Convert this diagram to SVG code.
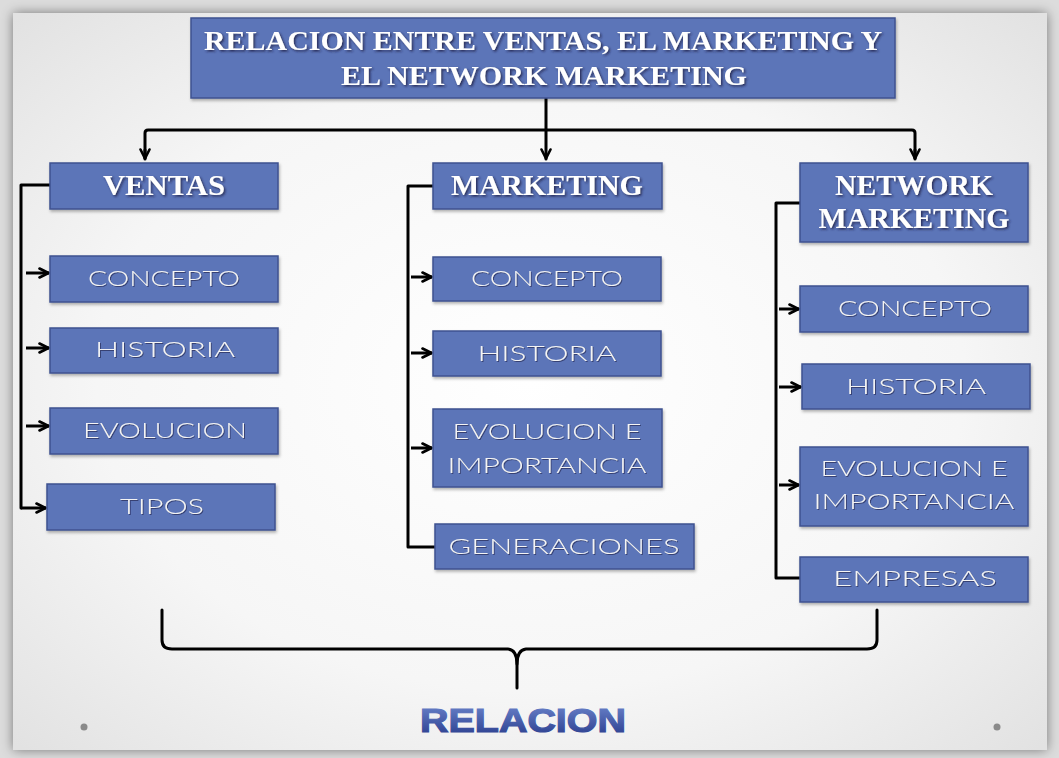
<svg xmlns="http://www.w3.org/2000/svg" width="1059" height="758" viewBox="0 0 1059 758">
<defs>
  <radialGradient id="slideBg" cx="0.5" cy="0.5" r="0.7">
    <stop offset="0" stop-color="#ffffff"/>
    <stop offset="0.6" stop-color="#f6f6f6"/>
    <stop offset="1" stop-color="#e2e2e2"/>
  </radialGradient>
  <linearGradient id="relGrad" x1="0" y1="0" x2="0" y2="1">
    <stop offset="0" stop-color="#6f88cf"/>
    <stop offset="1" stop-color="#26398a"/>
  </linearGradient>
  <filter id="slideShadow" x="-5%" y="-5%" width="110%" height="110%">
    <feDropShadow dx="0" dy="0" stdDeviation="6" flood-color="#000" flood-opacity="0.45"/>
  </filter>
  <filter id="boxShadow" x="-10%" y="-20%" width="120%" height="150%">
    <feDropShadow dx="1" dy="2" stdDeviation="1.5" flood-color="#000" flood-opacity="0.3"/>
  </filter>
  <filter id="txtShadow" x="-10%" y="-30%" width="120%" height="160%">
    <feDropShadow dx="1.5" dy="1.5" stdDeviation="0.8" flood-color="#1a2244" flood-opacity="0.85"/>
  </filter>
  <filter id="txtShadow2" x="-10%" y="-30%" width="120%" height="160%">
    <feDropShadow dx="1" dy="1" stdDeviation="0.6" flood-color="#1a2244" flood-opacity="0.6"/>
  </filter>
  <marker id="arr" viewBox="0 0 12 12" refX="11" refY="6" markerWidth="12" markerHeight="12" markerUnits="userSpaceOnUse" orient="auto">
    <path d="M1.5,1.5 L10.5,6 L1.5,10.5" fill="none" stroke="#000" stroke-width="2.6" stroke-linecap="round" stroke-linejoin="round"/>
  </marker>
  <style>
    .box { fill: #5b74b8; stroke: #3f5290; stroke-width: 1.5; filter: url(#boxShadow); }
    .head { font-family: "Liberation Serif", serif; font-weight: bold; fill: #ffffff; filter: url(#txtShadow); text-anchor: middle; }
    .sub { font-family: "Lato", "DejaVu Sans", sans-serif; font-weight: 300; font-size: 21px; fill: #f4f4f4; filter: url(#txtShadow2); text-anchor: middle; }
    .conn { fill: none; stroke: #000; stroke-width: 3; stroke-linejoin: round; stroke-linecap: round; }
    .arrow { fill: none; stroke: #000; stroke-width: 3; marker-end: url(#arr); }
  </style>
</defs>

<rect x="0" y="0" width="1059" height="758" fill="#dcdcdc"/>
<rect x="13" y="13" width="1034" height="737" fill="url(#slideBg)" filter="url(#slideShadow)"/>
<circle cx="84" cy="727" r="3.5" fill="#8a8a8a"/>
<circle cx="997" cy="727" r="3.5" fill="#8a8a8a"/>

<g id="connectors">
  <path class="conn" d="M546,98 L546,159" marker-end="url(#arr)"/>
  <path class="conn" d="M145,158 L145,133 Q145,130 148,130 L912,130 Q915,130 915,133 L915,158" />
  <path class="conn" d="M145,150 L145,159" marker-end="url(#arr)"/>
  <path class="conn" d="M915,150 L915,159" marker-end="url(#arr)"/>

  <path class="conn" d="M50,185 L21,185 L21,508"/>
  <line class="arrow" x1="26" y1="273" x2="49" y2="273"/>
  <line class="arrow" x1="26" y1="348" x2="49" y2="348"/>
  <line class="arrow" x1="26" y1="426" x2="49" y2="426"/>
  <line class="arrow" x1="21" y1="508" x2="46" y2="508"/>

  <path class="conn" d="M433,186 L408,186 L408,547 L435,547"/>
  <line class="arrow" x1="411" y1="277" x2="432" y2="277"/>
  <line class="arrow" x1="411" y1="353" x2="432" y2="353"/>
  <line class="arrow" x1="411" y1="448" x2="432" y2="448"/>

  <path class="conn" d="M800,203 L776,203 L776,578 L800,578"/>
  <line class="arrow" x1="779" y1="309" x2="799" y2="309"/>
  <line class="arrow" x1="779" y1="387" x2="801" y2="387"/>
  <line class="arrow" x1="779" y1="485" x2="799" y2="485"/>

  <path class="conn" d="M162,610 L162,640 Q162,649 172,649 L508,649 Q517,650 517,664 L517,688"/>
  <path class="conn" d="M877,610 L877,640 Q877,649 867,649 L526,649 Q517,650 517,664"/>
</g>

<g id="title">
  <rect class="box" x="191" y="18" width="704" height="80"/>
  <text class="head" x="543" y="50" font-size="28" textLength="678" lengthAdjust="spacingAndGlyphs">RELACION ENTRE VENTAS, EL MARKETING Y</text>
  <text class="head" x="544" y="85" font-size="28" textLength="406" lengthAdjust="spacingAndGlyphs">EL NETWORK MARKETING</text>
</g>

<g id="ventas">
  <rect class="box" x="50" y="163" width="228" height="46"/>
  <text class="head" x="164" y="195" font-size="29" textLength="122" lengthAdjust="spacingAndGlyphs">VENTAS</text>
</g>
<g id="ventas-concepto">
  <rect class="box" x="50" y="256" width="228" height="46"/>
  <text class="sub" x="164" y="286" textLength="152" lengthAdjust="spacingAndGlyphs">CONCEPTO</text>
</g>
<g id="ventas-historia">
  <rect class="box" x="50" y="328" width="228" height="45"/>
  <text class="sub" x="165" y="357" textLength="140" lengthAdjust="spacingAndGlyphs">HISTORIA</text>
</g>
<g id="ventas-evolucion">
  <rect class="box" x="50" y="408" width="228" height="46"/>
  <text class="sub" x="165" y="438" textLength="164" lengthAdjust="spacingAndGlyphs">EVOLUCION</text>
</g>
<g id="ventas-tipos">
  <rect class="box" x="47" y="484" width="228" height="46"/>
  <text class="sub" x="162" y="514" textLength="84" lengthAdjust="spacingAndGlyphs">TIPOS</text>
</g>

<g id="marketing">
  <rect class="box" x="433" y="163" width="229" height="46"/>
  <text class="head" x="547" y="195" font-size="29" textLength="192" lengthAdjust="spacingAndGlyphs">MARKETING</text>
</g>
<g id="marketing-concepto">
  <rect class="box" x="433" y="257" width="228" height="44"/>
  <text class="sub" x="547" y="286" textLength="152" lengthAdjust="spacingAndGlyphs">CONCEPTO</text>
</g>
<g id="marketing-historia">
  <rect class="box" x="433" y="331" width="228" height="45"/>
  <text class="sub" x="547" y="361" textLength="139" lengthAdjust="spacingAndGlyphs">HISTORIA</text>
</g>
<g id="marketing-evolucion">
  <rect class="box" x="433" y="409" width="229" height="78"/>
  <text class="sub" x="547" y="439" textLength="189" lengthAdjust="spacingAndGlyphs">EVOLUCION E</text>
  <text class="sub" x="547" y="473" textLength="199" lengthAdjust="spacingAndGlyphs">IMPORTANCIA</text>
</g>
<g id="marketing-generaciones">
  <rect class="box" x="435" y="524" width="259" height="45"/>
  <text class="sub" x="564" y="554" textLength="231" lengthAdjust="spacingAndGlyphs">GENERACIONES</text>
</g>

<g id="network">
  <rect class="box" x="800" y="163" width="228" height="79"/>
  <text class="head" x="914" y="195" font-size="29" textLength="158" lengthAdjust="spacingAndGlyphs">NETWORK</text>
  <text class="head" x="914" y="228" font-size="29" textLength="191" lengthAdjust="spacingAndGlyphs">MARKETING</text>
</g>
<g id="network-concepto">
  <rect class="box" x="800" y="286" width="228" height="46"/>
  <text class="sub" x="915" y="316" textLength="154" lengthAdjust="spacingAndGlyphs">CONCEPTO</text>
</g>
<g id="network-historia">
  <rect class="box" x="802" y="364" width="228" height="45"/>
  <text class="sub" x="916" y="394" textLength="140" lengthAdjust="spacingAndGlyphs">HISTORIA</text>
</g>
<g id="network-evolucion">
  <rect class="box" x="800" y="447" width="228" height="79"/>
  <text class="sub" x="914" y="476" textLength="187" lengthAdjust="spacingAndGlyphs">EVOLUCION E</text>
  <text class="sub" x="914" y="509" textLength="201" lengthAdjust="spacingAndGlyphs">IMPORTANCIA</text>
</g>
<g id="network-empresas">
  <rect class="box" x="800" y="557" width="228" height="45"/>
  <text class="sub" x="915" y="586" textLength="164" lengthAdjust="spacingAndGlyphs">EMPRESAS</text>
</g>

<g id="relacion">
  <text x="523" y="732" font-family="Liberation Sans, sans-serif" font-weight="bold" font-size="34" fill="url(#relGrad)" stroke="url(#relGrad)" stroke-width="1.2" text-anchor="middle" textLength="206" lengthAdjust="spacingAndGlyphs">RELACION</text>
</g>
</svg>
